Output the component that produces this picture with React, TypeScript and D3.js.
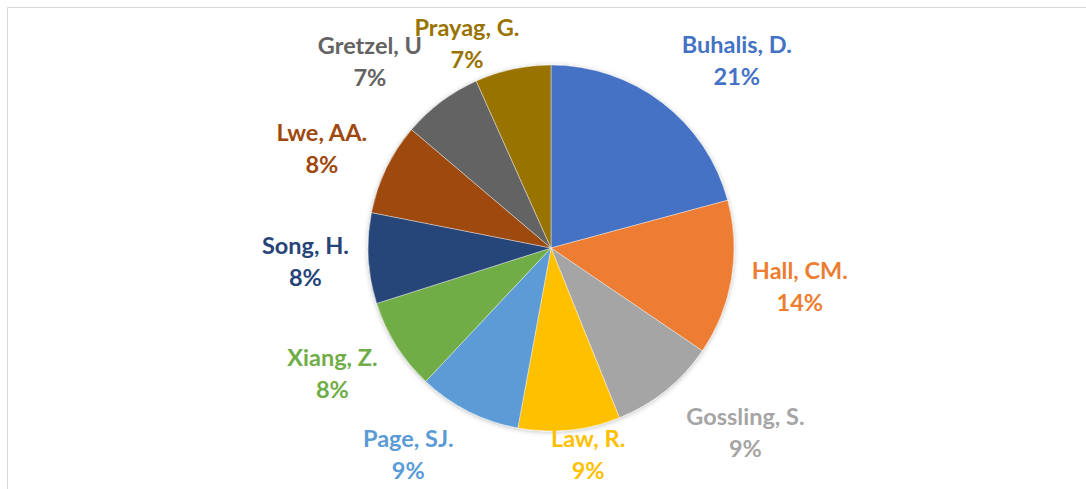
import React from "react";
import * as d3 from "d3";

const authors = [
  "Buhalis, D.",
  "Hall, CM.",
  "Gossling, S.",
  "Law, R.",
  "Page, SJ.",
  "Xiang, Z.",
  "Song, H.",
  "Lwe, AA.",
  "Gretzel, U",
  "Prayag, G.",
];
const shares = [20.8, 13.7, 9.4, 9.0, 9.1, 8.1, 8.0, 8.1, 7.1, 6.7];
const colors = [
  "#4472C4",
  "#ED7D31",
  "#A5A5A5",
  "#FFC000",
  "#5B9BD5",
  "#70AD47",
  "#264478",
  "#9E480E",
  "#636363",
  "#997300",
];
// layout nudges of label blocks relative to their computed anchor
const labelNudge: [number, number][] = [
  [46, -3],
  [22, 2],
  [50, 7],
  [14, -21],
  [-39, 3],
  [-24, 4],
  [-16, 2],
  [-22, 2],
  [-43, -1],
  [-36, 22],
];

const W = 1086;
const H = 489;
const cx = 551;
const cy = 248;
const R = 183;
const labelR = 230;

export default function App() {
  const total = d3.sum(shares);
  const pie = d3.pie<number>().sort(null).value((d) => d);
  const arcs = pie(shares);
  const arc = d3.arc<d3.PieArcDatum<number>>().innerRadius(0).outerRadius(R);
  const labelArc = d3
    .arc<d3.PieArcDatum<number>>()
    .innerRadius(labelR)
    .outerRadius(labelR);

  return (
    <svg
      width={W}
      height={H}
      style={{ position: "absolute", left: 0, top: 0, background: "#fff" }}
    >
      <defs>
        <filter id="sh" x="-20%" y="-20%" width="140%" height="140%">
          <feDropShadow dx="0" dy="1" stdDeviation="2.5" floodColor="#000" floodOpacity="0.25" />
        </filter>
      </defs>
      <rect x={0} y={0} width={W} height={H} fill="#fff" />
      <line x1={7.5} y1={7.5} x2={W} y2={7.5} stroke="#d9d9d9" strokeWidth={1} />
      <line x1={7.5} y1={7.5} x2={7.5} y2={H} stroke="#d9d9d9" strokeWidth={1} />
      <g transform={`translate(${cx},${cy})`}>
        <g filter="url(#sh)">
          {arcs.map((a, i) => (
            <path key={i} d={arc(a) || ""} fill={colors[i]} stroke="#ffffff" strokeWidth={0.4} />
          ))}
        </g>
        {arcs.map((a, i) => {
          const [x, y] = labelArc.centroid(a);
          const lx = x + labelNudge[i][0];
          const ly = y + labelNudge[i][1];
          const pct = Math.round((a.value / total) * 100);
          return (
            <text
              key={i}
              x={lx}
              y={ly}
              textAnchor="middle"
              fill={colors[i]}
              fontFamily="Lato, 'Open Sans', sans-serif"
              fontWeight={700}
              fontSize={23.5}
            >
              <tspan x={lx} y={ly - 9}>
                {authors[i]}
              </tspan>
              <tspan x={lx} y={ly + 23}>
                {pct}%
              </tspan>
            </text>
          );
        })}
      </g>
    </svg>
  );
}
